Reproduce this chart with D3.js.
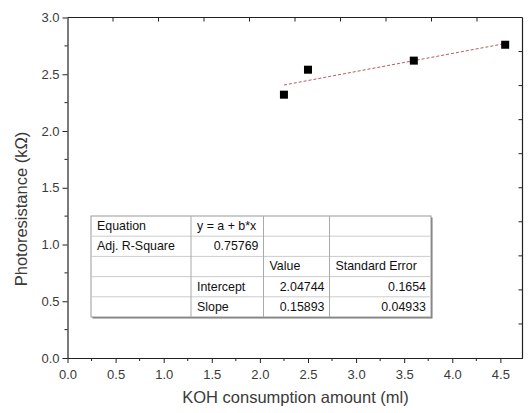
<!DOCTYPE html>
<html>
<head>
<meta charset="utf-8">
<script src="https://cdn.jsdelivr.net/npm/d3@7"></script>
<style>
  html, body { margin: 0; padding: 0; background: #fff; }
  svg { display: block; font-family: "Liberation Sans", Arial, sans-serif; }
</style>
</head>
<body>
<svg id="chart" width="530" height="413"></svg>
<script>
// Measured KOH consumption vs photoresistance
const kohVolume = [2.25, 2.5, 3.6, 4.55];
const resistance = [2.32, 2.54, 2.62, 2.76];

// Linear fit results
const fitIntercept = 2.04744;
const fitSlope = 0.15893;

const xTicks = [0, 0.5, 1.0, 1.5, 2.0, 2.5, 3.0, 3.5, 4.0, 4.5];
const yTicks = [0, 0.5, 1.0, 1.5, 2.0, 2.5, 3.0];

// Fit summary table rows
const tableRows = [
  ["Equation", "y = a + b*x", "", ""],
  ["Adj. R-Square", "0.75769", "", ""],
  ["", "", "Value", "Standard Error"],
  ["", "Intercept", "2.04744", "0.1654"],
  ["", "Slope", "0.15893", "0.04933"]
];

const svg = d3.select("#chart");
const plotLeft = 67.5, plotRight = 522.5, plotTop = 17.5, plotBottom = 358;

const x = d3.scaleLinear().domain([0, 4.73]).range([plotLeft, plotRight]);
const y = d3.scaleLinear().domain([0, 3.0]).range([plotBottom, plotTop]);

const axisColor = "#222";
const labelColor = "#3a3a3a";
const tickFont = 13;

// Minor ticks (bottom / left)
const xMinor = d3.range(0.25, 4.73, 0.5);
const yMinor = d3.range(0.25, 3.0, 0.5);

const gx = svg.append("g").attr("transform", `translate(0,${plotBottom})`)
  .call(d3.axisBottom(x).tickValues(xTicks).tickFormat(d3.format(".1f")).tickSize(5).tickPadding(7).tickSizeOuter(0));
gx.selectAll(".tick text").attr("font-size", tickFont).attr("fill", labelColor).attr("font-family", "Liberation Sans, Arial, sans-serif");
gx.selectAll(".tick line").attr("stroke", axisColor);
gx.select(".domain").attr("stroke", axisColor).attr("stroke-width", 1.2);
svg.append("g").selectAll("line").data(xMinor).join("line")
  .attr("x1", d => x(d)).attr("x2", d => x(d))
  .attr("y1", plotBottom).attr("y2", plotBottom + 3).attr("stroke", axisColor);

const gy = svg.append("g").attr("transform", `translate(${plotLeft},0)`)
  .call(d3.axisLeft(y).tickValues(yTicks).tickFormat(d3.format(".1f")).tickSize(5).tickPadding(3).tickSizeOuter(0));
gy.selectAll(".tick text").attr("font-size", tickFont).attr("fill", labelColor).attr("font-family", "Liberation Sans, Arial, sans-serif");
gy.selectAll(".tick line").attr("stroke", axisColor);
gy.select(".domain").attr("stroke", axisColor).attr("stroke-width", 1.2);
svg.append("g").selectAll("line").data(yMinor).join("line")
  .attr("x1", plotLeft - 3).attr("x2", plotLeft)
  .attr("y1", d => y(d)).attr("y2", d => y(d)).attr("stroke", axisColor);

// Top and right frame lines with their own evenly spaced inward ticks
const frameTicks = d3.range(1, 10);
svg.append("line").attr("x1", plotLeft).attr("x2", plotRight).attr("y1", plotTop).attr("y2", plotTop)
  .attr("stroke", axisColor).attr("stroke-width", 1.2);
svg.append("line").attr("x1", plotRight).attr("x2", plotRight).attr("y1", plotTop).attr("y2", plotBottom)
  .attr("stroke", axisColor).attr("stroke-width", 1.2);
svg.append("g").selectAll("line").data(frameTicks).join("line")
  .attr("x1", d => plotLeft + (plotRight - plotLeft) * d / 10).attr("x2", d => plotLeft + (plotRight - plotLeft) * d / 10)
  .attr("y1", plotTop).attr("y2", plotTop + 4).attr("stroke", axisColor);
svg.append("g").selectAll("line").data(frameTicks).join("line")
  .attr("x1", plotRight - 4).attr("x2", plotRight)
  .attr("y1", d => plotTop + (plotBottom - plotTop) * d / 10).attr("y2", d => plotTop + (plotBottom - plotTop) * d / 10)
  .attr("stroke", axisColor);

// Axis titles
svg.append("text")
  .attr("x", 295.5).attr("y", 403)
  .attr("text-anchor", "middle").attr("font-size", 16.5).attr("fill", labelColor)
  .text("KOH consumption amount (ml)");
svg.append("text")
  .attr("transform", `translate(27,209) rotate(-90)`)
  .attr("text-anchor", "middle").attr("font-size", 16.5).attr("fill", labelColor)
  .text("Photoresistance (kΩ)");

// Fitted line across the data range
const xMin = d3.min(kohVolume), xMax = d3.max(kohVolume);
svg.append("line")
  .attr("x1", x(xMin)).attr("y1", y(fitIntercept + fitSlope * xMin))
  .attr("x2", x(xMax)).attr("y2", y(fitIntercept + fitSlope * xMax))
  .attr("stroke", "#b85a5a").attr("stroke-width", 1).attr("stroke-dasharray", "3,2");

// Data points
const pts = kohVolume.map((v, i) => [v, resistance[i]]);
const ms = 8;
svg.append("g").selectAll("rect").data(pts).join("rect")
  .attr("x", d => x(d[0]) - ms / 2).attr("y", d => y(d[1]) - ms / 2)
  .attr("width", ms).attr("height", ms).attr("fill", "#000");

// Fit summary table
const tX = 91, tY = 216, rowH = 20.2;
const colX = [91, 191, 263.5, 329.5, 431];
const tW = colX[4] - colX[0], tH = rowH * tableRows.length;
const tbl = svg.append("g");
tbl.append("rect").attr("x", tX + 1.5).attr("y", tY + 1.5).attr("width", tW).attr("height", tH)
  .attr("fill", "#777");
tbl.append("rect").attr("x", tX).attr("y", tY).attr("width", tW).attr("height", tH)
  .attr("fill", "#fff").attr("stroke", "#999").attr("stroke-width", 1);
tbl.selectAll("line.row").data(d3.range(1, tableRows.length)).join("line")
  .attr("x1", tX).attr("x2", tX + tW)
  .attr("y1", d => tY + d * rowH).attr("y2", d => tY + d * rowH)
  .attr("stroke", "#ccc");
tbl.selectAll("line.col").data(colX.slice(1, 4)).join("line")
  .attr("x1", d => d).attr("x2", d => d)
  .attr("y1", tY).attr("y2", tY + tH).attr("stroke", "#aaa");

// Alignment per cell: labels left, numbers right
const isNumber = s => /^[0-9.]+$/.test(s);
tableRows.forEach((row, r) => {
  row.forEach((cell, c) => {
    if (!cell) return;
    const num = isNumber(cell);
    tbl.append("text")
      .attr("x", num ? colX[c + 1] - 5 : colX[c] + 6)
      .attr("y", tY + r * rowH + 14)
      .attr("text-anchor", num ? "end" : "start")
      .attr("font-size", 12.4).attr("fill", "#111")
      .text(cell);
  });
});
</script>
</body>
</html>
